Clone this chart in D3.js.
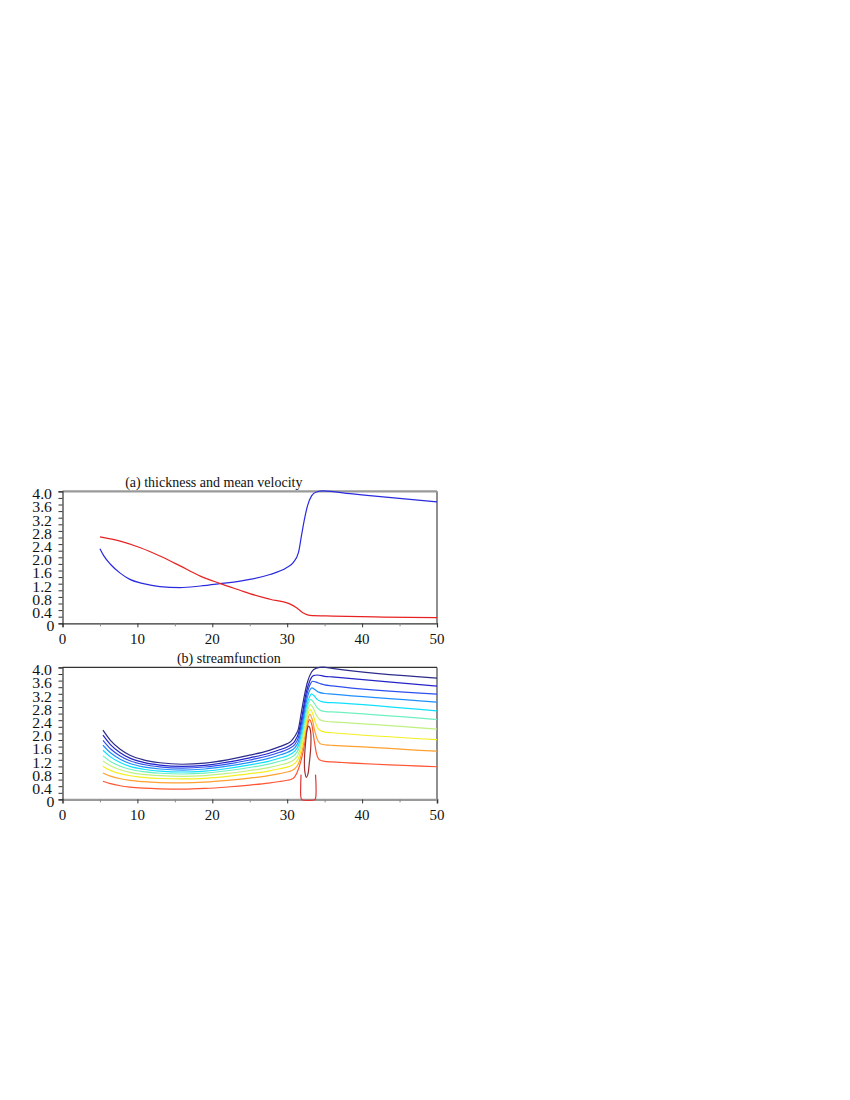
<!DOCTYPE html>
<html>
<head>
<meta charset="utf-8">
<script src="https://cdn.jsdelivr.net/npm/d3@7"></script>
<style>
  html, body { margin: 0; padding: 0; background: #fff; }
  svg { display: block; }
  text { font-family: "Liberation Serif", "Times New Roman", serif; fill: #111; }
</style>
</head>
<body>
<svg id="chart" width="850" height="1100"></svg>
<script>
// ---------------- DATA ----------------
const xTickValues = [0, 5, 10, 15, 20, 25, 30, 35, 40, 45, 50];
const xTickLabels = [0, 10, 20, 30, 40, 50];
const yTickValues = [0, 0.2, 0.4, 0.6, 0.8, 1.0, 1.2, 1.4, 1.6, 1.8, 2.0, 2.2, 2.4, 2.6, 2.8, 3.0, 3.2, 3.4, 3.6, 3.8, 4.0];
const yTickLabels = ["0", "0.4", "0.8", "1.2", "1.6", "2.0", "2.4", "2.8", "3.2", "3.6", "4.0"];
const yLabelValues = [0, 0.4, 0.8, 1.2, 1.6, 2.0, 2.4, 2.8, 3.2, 3.6, 4.0];

const titleA = "(a) thickness and mean velocity";
const titleB = "(b) streamfunction";

// panel (a): blue curve
const blueX = [5.0, 5.5, 6.4, 7.7, 9.0, 10.8, 13.0, 15.7, 18.4, 21.0, 23.7, 25.0, 27.7, 29.9, 30.8, 31.5, 31.9, 32.3, 32.7, 33.25, 33.9, 34.8, 38.4, 42.8, 50];
const blueV = [2.26, 2.05, 1.79, 1.52, 1.33, 1.20, 1.11, 1.08, 1.13, 1.20, 1.28, 1.33, 1.48, 1.68, 1.84, 2.14, 2.65, 3.15, 3.55, 3.86, 3.98, 4.01, 3.93, 3.83, 3.68];
// panel (a): red curve
const redX = [5.0, 7.7, 10.4, 13.0, 15.7, 18.4, 21.0, 23.7, 25.0, 27.7, 30.4, 31.25, 32.1, 33.0, 36.1, 42.8, 50];
const redV = [2.62, 2.49, 2.29, 2.04, 1.74, 1.43, 1.21, 1.0, 0.9, 0.73, 0.58, 0.47, 0.32, 0.24, 0.22, 0.19, 0.17];

// panel (b): streamfunction contours, shared left-side x grid
const leftX = [5.4, 6.4, 7.7, 9, 10.8, 13, 16, 19, 22, 25, 27.5, 29, 30, 30.5];
const psi0Left = [2.10, 1.79, 1.52, 1.34, 1.20, 1.11, 1.065, 1.10, 1.20, 1.34, 1.48, 1.60, 1.69, 1.76];
const psi1Left = [1.945, 1.661, 1.415, 1.25, 1.123, 1.041, 1.0, 1.033, 1.128, 1.26, 1.391, 1.506, 1.59, 1.656];
const psi2Left = [1.79, 1.536, 1.316, 1.171, 1.058, 0.986, 0.95, 0.981, 1.07, 1.195, 1.322, 1.429, 1.51, 1.572];
const psi3Left = [1.64, 1.412, 1.216, 1.087, 0.986, 0.922, 0.89, 0.921, 1.006, 1.123, 1.242, 1.344, 1.42, 1.478];
const psi4Left = [1.49, 1.289, 1.116, 1.002, 0.914, 0.857, 0.83, 0.857, 0.936, 1.045, 1.154, 1.25, 1.32, 1.375];
const psi5Left = [1.32, 1.151, 1.006, 0.913, 0.84, 0.792, 0.77, 0.795, 0.868, 0.967, 1.069, 1.155, 1.22, 1.271];
const psi6Left = [1.165, 1.021, 0.898, 0.819, 0.758, 0.718, 0.70, 0.722, 0.786, 0.876, 0.965, 1.042, 1.10, 1.146];
const psi7Left = [1.00, 0.881, 0.78, 0.716, 0.667, 0.634, 0.62, 0.64, 0.697, 0.779, 0.858, 0.928, 0.98, 1.021];
const psi8Left = [0.80, 0.705, 0.626, 0.575, 0.536, 0.511, 0.50, 0.521, 0.574, 0.647, 0.721, 0.782, 0.83, 0.864];
const psi9Left = [0.55, 0.477, 0.413, 0.373, 0.341, 0.32, 0.31, 0.332, 0.376, 0.434, 0.494, 0.542, 0.58, 0.604];

// right side (jump + plateau) points [x, value]
const psi0Right = [[30.8,1.84],[31.2,1.98],[31.5,2.14],[31.9,2.65],[32.3,3.15],[32.7,3.55],[33.25,3.86],[33.9,3.98],[34.8,4.01],[36,3.97],[50,3.675]];
const psi1Right = [[31,1.76],[31.5,2.0],[32,2.55],[32.5,3.2],[33,3.58],[33.5,3.75],[34,3.77],[35,3.73],[36,3.71],[50,3.43]];
const psi2Right = [[31,1.66],[31.5,1.88],[32,2.4],[32.5,3.05],[33,3.45],[33.4,3.58],[33.8,3.56],[34.5,3.5],[35,3.47],[36,3.44],[50,3.19]];
const psi3Right = [[31,1.56],[31.5,1.76],[32,2.25],[32.5,2.9],[33,3.3],[33.3,3.38],[33.7,3.33],[34.2,3.25],[35,3.21],[36,3.19],[50,2.95]];
const psi4Right = [[31,1.46],[31.5,1.64],[32,2.1],[32.5,2.75],[33,3.12],[33.25,3.2],[33.6,3.14],[34,3.03],[34.5,2.97],[35.2,2.94],[36,2.93],[50,2.68]];
const psi5Right = [[31,1.35],[31.5,1.52],[32,1.95],[32.5,2.58],[32.9,2.95],[33.15,3.03],[33.5,2.95],[34,2.78],[34.5,2.69],[35.2,2.66],[36,2.65],[50,2.42]];
const psi6Right = [[31,1.22],[31.5,1.38],[32,1.8],[32.5,2.42],[32.85,2.78],[33.1,2.87],[33.45,2.78],[33.9,2.55],[34.4,2.41],[35.2,2.36],[36,2.35],[50,2.13]];
const psi7Right = [[31,1.09],[31.5,1.24],[32,1.64],[32.5,2.26],[32.8,2.6],[33.05,2.72],[33.4,2.6],[33.8,2.3],[34.3,2.1],[35,2.04],[36,2.02],[50,1.81]];
const psi8Right = [[31,0.93],[31.5,1.08],[32,1.48],[32.5,2.1],[32.8,2.46],[33.0,2.58],[33.35,2.42],[33.7,2.05],[34.1,1.78],[34.6,1.67],[35.5,1.645],[36,1.64],[50,1.46]];
const psi9Right = [[31,0.68],[31.5,0.92],[32,1.32],[32.5,1.92],[32.75,2.28],[32.95,2.42],[33.3,2.25],[33.6,1.8],[33.9,1.4],[34.3,1.2],[35,1.15],[36,1.135],[50,0.99]];

// closed inner loop and bottom U-shaped contour
const psiLoop = [[32.85,2.22],[32.65,2.1],[32.45,1.7],[32.3,1.2],[32.35,0.85],[32.55,0.67],[32.75,0.75],[32.95,1.1],[33.15,1.6],[33.15,2.0],[33.0,2.18]];
const psiBottom = [[31.85,0.75],[31.8,0.4],[31.82,0.08],[31.95,0.0],[33.7,0.0],[33.82,0.08],[33.85,0.4],[33.78,0.75]];

const contourColors = ["#2c2c8c", "#2424c8", "#3050ee", "#2090ff", "#10e0ff", "#70f0c0", "#c0f080", "#f2f020", "#ffa030", "#ff5533"];
const loopColor = "#a03030";
const bottomColor = "#e03838";

// ---------------- DRAW ----------------
const svg = d3.select("#chart");
const x = d3.scaleLinear().domain([0, 50]).range([62.5, 437]);
const yA = d3.scaleLinear().domain([0, 4]).range([623.3, 491.3]);
const yB = d3.scaleLinear().domain([0, 4]).range([799.4, 667.4]);

function drawPanel(y, topGray, bottomGray, title, titleX, titleY) {
  const g = svg.append("g");
  const [y0, y1] = y.range();
  // right frame
  g.append("line").attr("x1", x(50)).attr("x2", x(50)).attr("y1", y0).attr("y2", y1)
    .attr("stroke", "#444").attr("stroke-width", 1.2);
  // top frame
  g.append("line").attr("x1", x(0)).attr("x2", x(50)).attr("y1", y1).attr("y2", y1)
    .attr("stroke", topGray ? "#9a9a9a" : "#333").attr("stroke-width", topGray ? 2.2 : 1.2);

  // x axis
  const xa = g.append("g").attr("transform", `translate(0,${y0})`)
    .call(d3.axisBottom(x).tickValues(xTickValues).tickSize(4).tickFormat(""));
  xa.select(".domain").attr("stroke", bottomGray ? "#9a9a9a" : "#333").attr("stroke-width", bottomGray ? 2.2 : 1.2);
  xa.selectAll(".tick line").attr("stroke", d => (d % 10 === 0 ? "#333" : "#888"))
    .attr("y2", d => (d % 10 === 0 ? 4 : 3));
  // x labels
  g.selectAll(".xl").data(xTickLabels).enter().append("text")
    .attr("x", d => x(d)).attr("y", y0 + 20.7)
    .attr("text-anchor", "middle").attr("font-size", 15).text(d => d);

  // y axis
  const ya = g.append("g").attr("transform", `translate(${x(0)},0)`)
    .call(d3.axisLeft(y).tickValues(yTickValues).tickSize(4).tickFormat(""));
  ya.select(".domain").attr("stroke", "#333").attr("stroke-width", 1.2);
  ya.selectAll(".tick line").attr("stroke", "#333");
  // y labels (horizontally stretched serif digits)
  g.selectAll(".yl").data(yLabelValues).enter().append("text")
    .attr("transform", (d) => `translate(${d === 0 ? 54.5 : 52},${y(d) + 7.8}) scale(1.13,1)`)
    .attr("text-anchor", "end").attr("font-size", 14)
    .text((d, i) => yTickLabels[i]);

  // title
  g.append("text").attr("x", titleX).attr("y", titleY).attr("text-anchor", "middle")
    .attr("font-size", 14).text(title);
  return g;
}

const gA = drawPanel(yA, true, false, titleA, 213.8, 487);
const gB = drawPanel(yB, false, true, titleB, 228.8, 663.3);

// panel (a) lines
const lineA = d3.line().x(d => x(d[0])).y(d => yA(d[1])).curve(d3.curveMonotoneX);
gA.append("path").datum(blueX.map((v, i) => [v, blueV[i]]))
  .attr("d", lineA).attr("fill", "none").attr("stroke", "#2a2ae0").attr("stroke-width", 1.2);
gA.append("path").datum(redX.map((v, i) => [v, redV[i]]))
  .attr("d", lineA).attr("fill", "none").attr("stroke", "#e82222").attr("stroke-width", 1.2);

// panel (b) contours
const lefts = [psi0Left, psi1Left, psi2Left, psi3Left, psi4Left, psi5Left, psi6Left, psi7Left, psi8Left, psi9Left];
const rights = [psi0Right, psi1Right, psi2Right, psi3Right, psi4Right, psi5Right, psi6Right, psi7Right, psi8Right, psi9Right];
const lineB = d3.line().x(d => x(d[0])).y(d => yB(d[1])).curve(d3.curveMonotoneX);

// bottom contour first (underneath)
gB.append("path").datum(psiBottom)
  .attr("d", d3.line().x(d => x(d[0])).y(d => yB(d[1])).curve(d3.curveCatmullRom.alpha(0.5)))
  .attr("fill", "none").attr("stroke", bottomColor).attr("stroke-width", 1.2);

for (let i = lefts.length - 1; i >= 0; i--) {
  const pts = leftX.map((v, j) => [v, lefts[i][j]]).concat(rights[i]);
  gB.append("path").datum(pts).attr("d", lineB)
    .attr("fill", "none").attr("stroke", contourColors[i]).attr("stroke-width", 1.2);
}

gB.append("path").datum(psiLoop)
  .attr("d", d3.line().x(d => x(d[0])).y(d => yB(d[1])).curve(d3.curveCatmullRomClosed.alpha(0.5)))
  .attr("fill", "none").attr("stroke", loopColor).attr("stroke-width", 1.2);
</script>
</body>
</html>
